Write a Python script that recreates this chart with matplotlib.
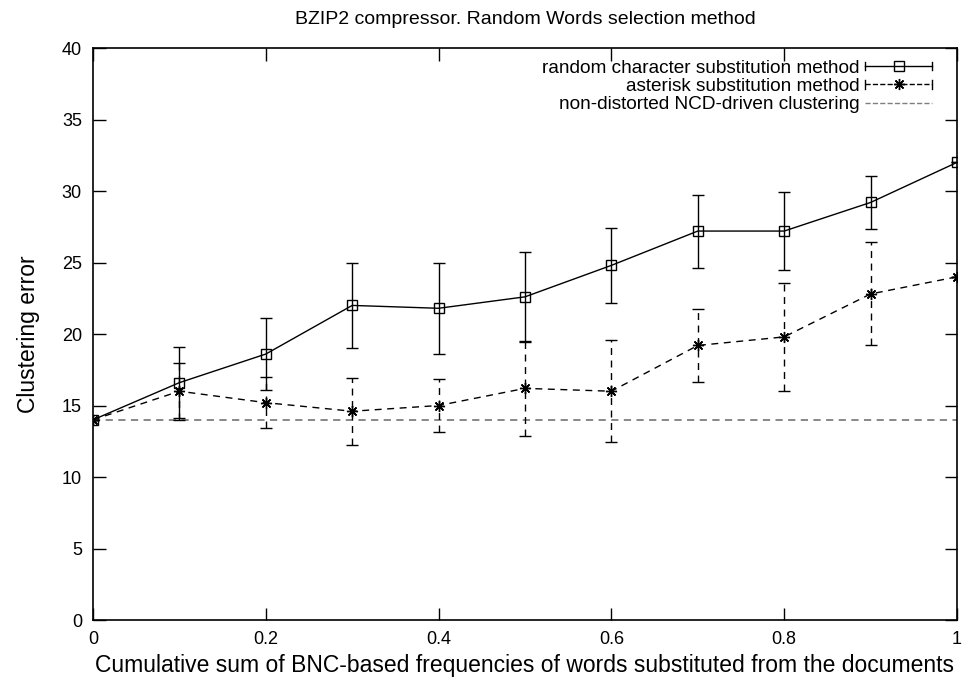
import matplotlib
matplotlib.use('Agg')
import matplotlib.pyplot as plt
from matplotlib.lines import Line2D
from matplotlib.legend_handler import HandlerBase

plt.rcParams['font.family'] = ['Liberation Sans', 'DejaVu Sans']

# values
freq = [0.0, 0.1, 0.2, 0.3, 0.4, 0.5, 0.6, 0.7, 0.8, 0.9, 1.0]
random_err = [14.0, 16.6, 18.6, 22.0, 21.8, 22.6, 24.8, 27.2, 27.2, 29.2, 32.0]
random_dev = [0.0, 2.5, 2.5, 3.0, 3.2, 3.15, 2.6, 2.55, 2.75, 1.85, 0.0]
asterisk_err = [14.0, 16.0, 15.2, 14.6, 15.0, 16.2, 16.0, 19.2, 19.8, 22.8, 24.0]
asterisk_dev = [0.0, 2.0, 1.8, 2.35, 1.85, 3.3, 3.55, 2.55, 3.75, 3.6, 0.0]
baseline = 14.0

xticks = [0, 0.2, 0.4, 0.6, 0.8, 1]
xticklabels = ['0', '0.2', '0.4', '0.6', '0.8', '1']
yticks = [0, 5, 10, 15, 20, 25, 30, 35, 40]

star = (8, 2, 0)
dash = (0, (5, 4))


class CapLine(HandlerBase):
    # gnuplot-like key sample: |--marker--|
    def create_artists(self, legend, orig, xd, yd, w, h, fontsize, trans):
        y = h / 2 - yd
        x0, x1 = -xd, -xd + w
        ls = orig.get_linestyle()
        out = [Line2D([x0, x1], [y, y], color=orig.get_color(), lw=1, linestyle=ls)]
        if orig.get_marker() not in (None, 'None', ''):
            out.append(Line2D([(x0 + x1) / 2], [y], marker=orig.get_marker(),
                              markersize=orig.get_markersize(), color='black',
                              mfc='none', mew=1, linestyle='none'))
            for xc in (x0, x1):
                out.append(Line2D([xc, xc], [y - 3, y + 3], color='black', lw=1))
        for a in out:
            a.set_transform(trans)
        return out


fig = plt.figure(figsize=(9.64, 6.83), dpi=100)
ax = fig.add_axes([0.0965, 0.0922, 0.8962, 0.8375])

ax.axhline(baseline, color='#7f7f7f', lw=1.3, linestyle=(0, (4, 3)), zorder=1)

eb1 = ax.errorbar(freq, random_err, yerr=random_dev, color='black', lw=1,
                  elinewidth=1, capsize=4, capthick=1, marker='s', markersize=6.5,
                  mfc='none', mew=1, zorder=3)
eb2 = ax.errorbar(freq, asterisk_err, yerr=asterisk_dev, color='black', lw=1,
                  linestyle=dash, elinewidth=1, capsize=4, capthick=1,
                  marker=star, markersize=8, mew=1, zorder=2)
eb2[2][0].set_linestyle(dash)

ax.set_xlim(0, 1)
ax.set_ylim(0, 40)
ax.set_xticks(xticks)
ax.set_xticklabels(xticklabels)
ax.set_yticks(yticks)
ax.tick_params(direction='in', length=9, width=1, top=True, right=True,
               labelsize=13, pad=8)
for s in ax.spines.values():
    s.set_linewidth(1.2)

ax.set_title('BZIP2 compressor. Random Words selection method', fontsize=14, pad=17)
ax.set_xlabel('Cumulative sum of BNC-based frequencies of words substituted from the documents',
              fontsize=16.5, labelpad=4)
ax.set_ylabel('Clustering error', fontsize=16.5, labelpad=16)

h1 = Line2D([], [], color='black', marker='s', markersize=6.5)
h2 = Line2D([], [], color='black', marker=star, markersize=8, linestyle='--')
h3 = Line2D([], [], color='#7f7f7f', linestyle='--')
ax.legend([h1, h2, h3],
          ['random character substitution method', 'asterisk substitution method',
           'non-distorted NCD-driven clustering'],
          handler_map={Line2D: CapLine()}, loc='upper right',
          bbox_to_anchor=(0.971, 0.980), frameon=False, borderpad=0,
          borderaxespad=0, markerfirst=False, fontsize=13.7, handlelength=3.5,
          labelspacing=0.05, handletextpad=0.3)

fig.savefig('out.png', dpi=100)
